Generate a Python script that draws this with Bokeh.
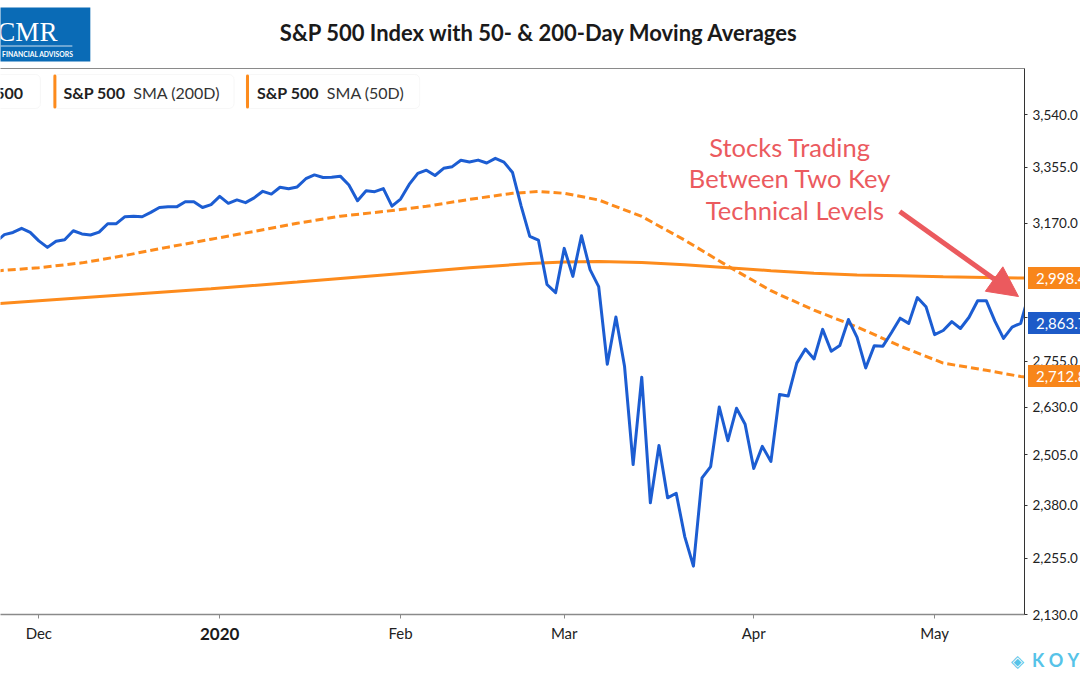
import math
from bokeh.plotting import figure
from bokeh.layouts import column
from bokeh.models import (Range1d, FixedTicker, Label, BoxAnnotation, Arrow,
                          NormalHead, LinearAxis, NumeralTickFormatter, Div)
from bokeh.core.properties import value
from bokeh.embed import file_html
from bokeh.resources import INLINE

# ---------------- data ----------------
dates = [
    "2019-11-22", "2019-11-25", "2019-11-26", "2019-11-27", "2019-11-29",
    "2019-12-02", "2019-12-03", "2019-12-04", "2019-12-05", "2019-12-06",
    "2019-12-09", "2019-12-10", "2019-12-11", "2019-12-12", "2019-12-13",
    "2019-12-16", "2019-12-17", "2019-12-18", "2019-12-19", "2019-12-20",
    "2019-12-23", "2019-12-24", "2019-12-26", "2019-12-27", "2019-12-30",
    "2019-12-31",
    "2020-01-02", "2020-01-03", "2020-01-06", "2020-01-07", "2020-01-08",
    "2020-01-09", "2020-01-10", "2020-01-13", "2020-01-14", "2020-01-15",
    "2020-01-16", "2020-01-17", "2020-01-21", "2020-01-22", "2020-01-23",
    "2020-01-24", "2020-01-27", "2020-01-28", "2020-01-29", "2020-01-30",
    "2020-01-31",
    "2020-02-03", "2020-02-04", "2020-02-05", "2020-02-06", "2020-02-07",
    "2020-02-10", "2020-02-11", "2020-02-12", "2020-02-13", "2020-02-14",
    "2020-02-18", "2020-02-19", "2020-02-20", "2020-02-21", "2020-02-24",
    "2020-02-25", "2020-02-26", "2020-02-27", "2020-02-28",
    "2020-03-02", "2020-03-03", "2020-03-04", "2020-03-05", "2020-03-06",
    "2020-03-09", "2020-03-10", "2020-03-11", "2020-03-12", "2020-03-13",
    "2020-03-16", "2020-03-17", "2020-03-18", "2020-03-19", "2020-03-20",
    "2020-03-23", "2020-03-24", "2020-03-25", "2020-03-26", "2020-03-27",
    "2020-03-30", "2020-03-31",
    "2020-04-01", "2020-04-02", "2020-04-03", "2020-04-06", "2020-04-07",
    "2020-04-08", "2020-04-09", "2020-04-13", "2020-04-14", "2020-04-15",
    "2020-04-16", "2020-04-17", "2020-04-20", "2020-04-21", "2020-04-22",
    "2020-04-23", "2020-04-24", "2020-04-27", "2020-04-28", "2020-04-29",
    "2020-04-30",
    "2020-05-01", "2020-05-04", "2020-05-05", "2020-05-06", "2020-05-07",
    "2020-05-08", "2020-05-11", "2020-05-12", "2020-05-13", "2020-05-14",
    "2020-05-15", "2020-05-18",
]

spx_close = [
    3110.29, 3133.64, 3140.52, 3153.63, 3140.98,
    3113.87, 3093.20, 3112.76, 3117.43, 3145.91, 3135.96, 3132.52, 3141.63,
    3168.57, 3168.80, 3191.45, 3192.52, 3191.14, 3205.37, 3221.22, 3224.01,
    3223.38, 3239.91, 3240.02, 3221.29, 3230.78,
    3257.85, 3234.85, 3246.28, 3237.18, 3253.05, 3274.70, 3265.35, 3288.13,
    3283.15, 3289.29, 3316.81, 3329.62, 3320.79, 3321.75, 3325.54, 3295.47,
    3243.63, 3276.24, 3273.40, 3283.66, 3225.52,
    3248.92, 3297.59, 3334.69, 3345.78, 3327.71, 3352.09, 3357.75, 3379.45,
    3373.94, 3380.16, 3370.29, 3386.15, 3373.23, 3337.75, 3225.89, 3128.21,
    3116.39, 2978.76, 2954.22,
    3090.23, 3003.37, 3130.12, 3023.94, 2972.37, 2746.56, 2882.23, 2741.38,
    2480.64, 2711.02, 2386.13, 2529.19, 2398.10, 2409.39, 2304.92, 2237.40,
    2447.33, 2475.56, 2630.07, 2541.47, 2626.65, 2584.59,
    2470.50, 2526.90, 2488.65, 2663.68, 2659.41, 2749.98, 2789.82, 2761.63,
    2846.06, 2783.36, 2799.55, 2874.56, 2823.16, 2736.56, 2799.31, 2797.80,
    2836.74, 2878.48, 2863.39, 2939.51, 2912.43,
    2830.71, 2842.74, 2868.44, 2848.42, 2881.19, 2929.80, 2930.32, 2870.12,
    2820.00, 2852.50, 2863.70, 2953.91,
]

sma50_dates = [
    "2019-11-22", "2019-12-02", "2019-12-09", "2019-12-16", "2019-12-23",
    "2019-12-31", "2020-01-08", "2020-01-15", "2020-01-23", "2020-01-30",
    "2020-02-06", "2020-02-13", "2020-02-21", "2020-02-26", "2020-03-02",
    "2020-03-06", "2020-03-13", "2020-03-20", "2020-03-27", "2020-04-03",
    "2020-04-13", "2020-04-20", "2020-04-27", "2020-05-04", "2020-05-11",
    "2020-05-15", "2020-05-18",
]
sma50_values = [
    3020, 3030, 3045, 3068, 3094, 3119, 3144, 3170, 3193, 3208, 3225, 3248,
    3268, 3274, 3268, 3246, 3192, 3116, 3035, 2960, 2902, 2853, 2798, 2750,
    2730, 2712.8, 2710,
]

sma200_dates = [
    "2019-11-22", "2019-12-02", "2019-12-16", "2019-12-31", "2020-01-15",
    "2020-01-30", "2020-02-13", "2020-02-25", "2020-03-02", "2020-03-06",
    "2020-03-13", "2020-03-20", "2020-03-27", "2020-04-03", "2020-04-13",
    "2020-04-20", "2020-04-27", "2020-05-04", "2020-05-11", "2020-05-15",
    "2020-05-18",
]
sma200_values = [
    2921, 2930, 2948, 2966, 2986, 3008, 3030, 3043, 3048, 3049, 3046, 3039,
    3030, 3021, 3013, 3008, 3005, 3002, 3000, 2998.4, 2998,
]

last_values = {"spx": 2863.7, "sma200": 2998.4, "sma50": 2712.8}

month_tick_dates = ["2019-12-02", "2020-01-02", "2020-02-03", "2020-03-02",
                    "2020-04-01", "2020-05-01"]
month_tick_labels = ["Dec", "2020", "Feb", "Mar", "Apr", "May"]

y_ticks = [2130, 2255, 2380, 2505, 2630, 2755, 2880, 3170, 3355, 3540]

title_text = "S&P 500 Index with 50- & 200-Day Moving Averages"
note_lines = ["Stocks Trading", "Between Two Key", "Technical Levels"]

# ---------------- styling ----------------
BLUE = "#1c5dd2"
BLUE_TAG = "#1d5bc8"
ORANGE = "#fd8b1c"
ORANGE_TAG = "#f8861a"
CORAL = "#eb5a5e"
LOGO_BLUE = "#0a6bb6"
KOY_BLUE = "#56c3e8"
FONT = "Lato"

W, H = 1080, 675
FRAME_L, FRAME_R, FRAME_T, FRAME_B = 0, 1026, 68, 614
PX_PER_DAY, PX_ORIGIN = 8.63, 38.4 - 5 * 8.63   # page x of trading-day index 0
X0 = (FRAME_L - PX_ORIGIN) / PX_PER_DAY
X1 = (FRAME_R - PX_ORIGIN) / PX_PER_DAY
Y0, Y1 = 2130.0, 3710.0


def px2x(px):
    return X0 + (px - FRAME_L) / (FRAME_R - FRAME_L) * (X1 - X0)


def py2y(py):
    return Y0 * (Y1 / Y0) ** ((FRAME_B - py) / (FRAME_B - FRAME_T))


def x2px(x):
    return FRAME_L + (x - X0) / (X1 - X0) * (FRAME_R - FRAME_L)


def y2py(y):
    return FRAME_B - math.log(y / Y0) / math.log(Y1 / Y0) * (FRAME_B - FRAME_T)


xi = {d: i for i, d in enumerate(dates)}
x_close = list(range(len(dates)))
x50 = [xi[d] for d in sma50_dates]
x200 = [xi[d] for d in sma200_dates]
month_tick_pos = [xi[d] for d in month_tick_dates]

# ================= main chart =================
p = figure(width=W, height=H, output_backend="svg", toolbar_location=None,
           y_axis_type="log", y_axis_location="right",
           x_range=Range1d(X0, X1), y_range=Range1d(Y0, Y1),
           min_border_left=0, min_border_right=W - FRAME_R, min_border_top=FRAME_T,
           min_border_bottom=H - FRAME_B)
p.outline_line_color = None
p.grid.visible = False
p.background_fill_color = "white"
p.border_fill_color = "white"

# x axis
p.xaxis.ticker = FixedTicker(ticks=month_tick_pos)
p.xaxis.major_label_overrides = {
    pos: ("" if lab == "2020" else lab) for pos, lab in zip(month_tick_pos, month_tick_labels)
}
p.xaxis.axis_line_color = "#8a8a8a"
p.xaxis.axis_line_width = 1.6
p.xaxis.major_tick_line_color = "#8a8a8a"
p.xaxis.major_tick_out = 4
p.xaxis.major_tick_in = 0
p.xaxis.minor_tick_line_color = None
p.xaxis.major_label_text_font = FONT
p.xaxis.major_label_text_font_size = "15px"
p.xaxis.major_label_text_color = "#222222"
p.xaxis.major_label_standoff = 5

# y axis
p.yaxis.ticker = FixedTicker(ticks=y_ticks)
p.yaxis.formatter = NumeralTickFormatter(format="0,0.0")
p.yaxis.axis_line_color = "#333333"
p.yaxis.axis_line_width = 1
p.yaxis.major_tick_line_color = "#333333"
p.yaxis.major_tick_out = 3
p.yaxis.major_tick_in = 0
p.yaxis.minor_tick_line_color = None
p.yaxis.major_label_text_font = FONT
p.yaxis.major_label_text_font_size = "13.5px"
p.yaxis.major_label_text_color = "#222222"
p.yaxis.major_label_standoff = 5

# top border line
top_axis = LinearAxis(ticker=FixedTicker(ticks=[]), axis_line_color="#8a8a8a",
                      axis_line_width=1.2, major_tick_line_color=None, major_tick_out=0,
                      minor_tick_line_color=None, major_label_standoff=0)
p.add_layout(top_axis, "above")

# series
p.line(x200, sma200_values, line_color=ORANGE, line_width=3)
p.line(x50, sma50_values, line_color=ORANGE, line_width=3, line_dash="8 4")
p.line(x_close, spx_close, line_color=BLUE, line_width=3, line_join="round")

# legend chips
leg_top, leg_bot = py2y(74), py2y(108)
for l, r in [(-80, 40), (53, 234), (246, 420)]:
    p.add_layout(BoxAnnotation(left=px2x(l), right=px2x(r), top=leg_top, bottom=leg_bot,
                               fill_color="white", fill_alpha=1, line_color="#e4e4e4",
                               line_width=1, border_radius=5, level="overlay"))
for l in [53, 246]:
    p.add_layout(BoxAnnotation(left=px2x(l), right=px2x(l + 3), top=leg_top, bottom=leg_bot,
                               fill_color=ORANGE, fill_alpha=1, line_color=None,
                               border_radius=2, level="overlay"))
leg_y = py2y(91.5)
legend_texts = [
    (23, "S&P 500", "bold", "right"),
    (63, "S&P 500", "bold", "left"),
    (133, "SMA (200D)", "normal", "left"),
    (257, "S&P 500", "bold", "left"),
    (327, "SMA (50D)", "normal", "left"),
]
for px, txt, style, align in legend_texts:
    p.add_layout(Label(x=px2x(px), y=leg_y, text=txt, text_font=FONT,
                       text_font_size="16px", text_font_style=style,
                       text_color="#222222" if style == "bold" else "#333333",
                       text_align=align, text_baseline="middle", level="overlay"))

# annotation
for py, px, line in zip([146, 177.5, 209], [791, 791, 796], note_lines):
    p.add_layout(Label(x=px2x(px), y=py2y(py), text=line, text_font=FONT,
                       text_font_size="25.5px", text_color=CORAL,
                       text_align="center", text_baseline="middle", level="overlay"))
p.add_layout(Arrow(x_start=px2x(901), y_start=py2y(211), x_end=px2x(1020), y_end=py2y(296),
                   line_color=CORAL, line_width=5,
                   end=NormalHead(size=30, fill_color=CORAL, line_color=CORAL)))

# ================= transparent overlay (page coordinates, left of the axis) =================
ov = figure(width=W, height=H, output_backend="svg", toolbar_location=None,
            x_range=Range1d(0, FRAME_R), y_range=Range1d(H, 0),
            x_axis_type=None, y_axis_type=None, min_border=0,
            background_fill_color=None, border_fill_color=None,
            outline_line_color=None)
ov.grid.visible = False
ov.margin = (-H, 0, 0, 0)

# chart title
ov.text(x=[540], y=[32], text=[title_text], text_font=value(FONT),
        text_font_size=value("22px"), text_font_style="bold", text_color="#1a1a1a",
        text_align="center", text_baseline="middle")

# bold year label on the time axis
ov.text(x=[x2px(month_tick_pos[1])], y=[633], text=["2020"], text_font=value(FONT),
        text_font_size=value("17px"), text_font_style="bold", text_color="#1a1a1a",
        text_align="center", text_baseline="middle")

# CMR logo
ov.quad(left=[-5], right=[90], top=[7], bottom=[61], fill_color=LOGO_BLUE, line_color=None)
ov.text(x=[57], y=[31.5], text=["CMR"], text_font=value("Liberation Serif"),
        text_font_size=value("27px"), text_color="white", text_align="right",
        text_baseline="middle")
ov.segment(x0=[0], y0=[45.5], x1=[72], y1=[45.5], line_color="white", line_width=0.8)
ov.text(x=[73], y=[53], text=["FINANCIAL ADVISORS"], text_font=value(FONT),
        text_font_size=value("6.8px"), text_font_style="bold", text_color="white",
        text_align="right", text_baseline="middle")

# ================= HTML overlay right of the axis (last-value tags, watermark) =================
tag_keys = ["sma200", "spx", "sma50"]
tag_cols = [ORANGE_TAG, BLUE_TAG, ORANGE_TAG]
parts = []
for key, col in zip(tag_keys, tag_cols):
    py = y2py(last_values[key])
    parts.append(
        f'<div style="position:absolute;left:{FRAME_R + 2}px;top:{py - 11:.1f}px;'
        f'width:{W - FRAME_R - 2}px;height:22px;overflow:hidden;white-space:nowrap;'
        f'background:{col};color:#ffffff;font-family:Lato;font-size:15px;'
        f'line-height:22px;padding-left:8px;box-sizing:border-box;">'
        f'{last_values[key]:,.1f}</div>')
parts.append(
    f'<div style="position:absolute;left:1011px;top:648px;width:{W - 1011}px;height:24px;'
    f'overflow:hidden;white-space:nowrap;color:{KOY_BLUE};font-family:Lato;'
    f'font-weight:bold;font-size:18px;line-height:24px;letter-spacing:5px;">'
    f'<span style="font-family:\'DejaVu Sans\';font-size:17px;letter-spacing:0;'
    f'margin-right:8px;">&#9672;</span>KOYFIN</div>')
html = ('<div style="position:relative;width:%dpx;height:%dpx;margin:0;padding:0;">%s</div>'
        % (W, H, "".join(parts)))
tags = Div(text=html, width=W, height=H, margin=(-H, 0, 0, 0), disable_math=True)

layout = column(p, ov, tags, spacing=0)
open("out.html", "w").write(file_html(layout, INLINE))
